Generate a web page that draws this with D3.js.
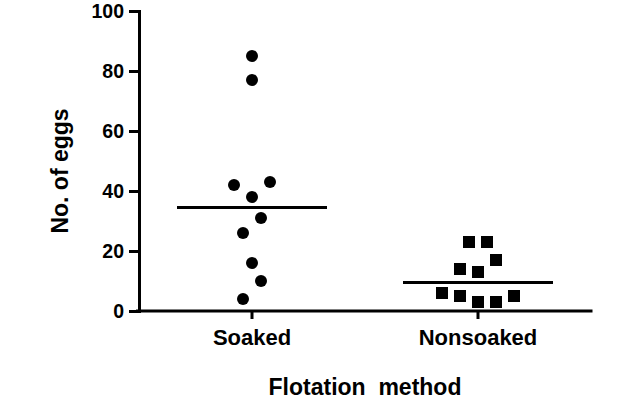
<!DOCTYPE html>
<html>
  <head>
    <meta charset="utf-8" />
    <title>Flotation method</title>
    <script src="https://d3js.org/d3.v7.min.js"></script>
    <style>
      body { margin: 0; background: #fff; }
      text { font-family: Arial, "Liberation Sans", sans-serif; font-weight: bold; fill: #000; }
    </style>
  </head>
  <body>
    <svg width="638" height="402"></svg>

    <script>
      // Groups and egg counts
      const categories = ["Soaked", "Nonsoaked"];
      const soaked = [85, 77, 42, 43, 38, 31, 26, 16, 10, 4];
      const nonsoaked = [23, 23, 17, 14, 13, 6, 5, 3, 3, 5];
      // side-by-side column of each point (scatter spread), in half-marker steps
      const soakedCol = [0, 0, -2, 2, 0, 1, -1, 0, 1, -1];
      const nonsoakedCol = [-1, 1, 2, -2, 0, -4, -2, 0, 2, 4];
      const yTicks = [0, 20, 40, 60, 80, 100];

      const groups = [
        { name: categories[0], values: soaked, cols: soakedCol, shape: "circle" },
        { name: categories[1], values: nonsoaked, cols: nonsoakedCol, shape: "square" },
      ];

      const svg = d3.select("svg");
      const margin = { left: 139, right: 47, top: 11, bottom: 91 };
      const width = +svg.attr("width");
      const height = +svg.attr("height");

      const x = d3
        .scaleBand()
        .domain(categories)
        .range([margin.left, width - margin.right]);
      const y = d3
        .scaleLinear()
        .domain([0, 100])
        .range([height - margin.bottom, margin.top]);

      const step = 9; // half a marker width
      const size = 12;

      // Y axis
      const yAxis = svg
        .append("g")
        .attr("transform", `translate(${margin.left},0)`)
        .call(d3.axisLeft(y).tickValues(yTicks).tickSize(10).tickPadding(5).tickSizeOuter(0));
      yAxis.select(".domain").attr("stroke-width", 3);
      yAxis.selectAll(".tick line").attr("stroke-width", 3);
      yAxis.selectAll(".tick text").attr("font-size", "19.5px").attr("dy", "0.35em");

      // X axis
      const xAxis = svg
        .append("g")
        .attr("transform", `translate(0,${y(0)})`)
        .call(d3.axisBottom(x).tickSize(8).tickPadding(10).tickSizeOuter(0));
      xAxis.select(".domain").attr("stroke-width", 3).attr("d", `M${margin.left - 1.5},0H${width - margin.right}`);
      xAxis.selectAll(".tick line").attr("stroke-width", 3);
      xAxis.selectAll(".tick text").attr("font-size", "22px");
      svg.selectAll(".domain").attr("stroke-linecap", "square");

      // Points
      groups.forEach((g) => {
        const cx = x(g.name) + x.bandwidth() / 2;
        const pts = g.values.map((v, i) => ({ v: v, c: g.cols[i] }));
        if (g.shape === "circle") {
          svg
            .append("g")
            .selectAll("circle")
            .data(pts)
            .enter()
            .append("circle")
            .attr("cx", (d) => cx + d.c * step)
            .attr("cy", (d) => y(d.v))
            .attr("r", size / 2)
            .attr("fill", "#000");
        } else {
          svg
            .append("g")
            .selectAll("rect")
            .data(pts)
            .enter()
            .append("rect")
            .attr("x", (d) => cx + d.c * step - size / 2)
            .attr("y", (d) => y(d.v) - size / 2)
            .attr("width", size)
            .attr("height", size)
            .attr("fill", "#000");
        }

        // median line
        const med = d3.median(g.values);
        svg
          .append("line")
          .attr("x1", cx - 75)
          .attr("x2", cx + 75)
          .attr("y1", y(med))
          .attr("y2", y(med))
          .attr("stroke", "#000")
          .attr("stroke-width", 3);
      });

      // Axis titles
      svg
        .append("text")
        .attr("x", (margin.left + width - margin.right) / 2)
        .attr("y", 395)
        .attr("text-anchor", "middle")
        .attr("font-size", "23px")
        .attr("xml:space", "preserve")
        .text("Flotation  method");

      svg
        .append("text")
        .attr("transform", "translate(68,171) rotate(-90)")
        .attr("text-anchor", "middle")
        .attr("font-size", "23px")
        .text("No. of eggs");
    </script>
  </body>
</html>
